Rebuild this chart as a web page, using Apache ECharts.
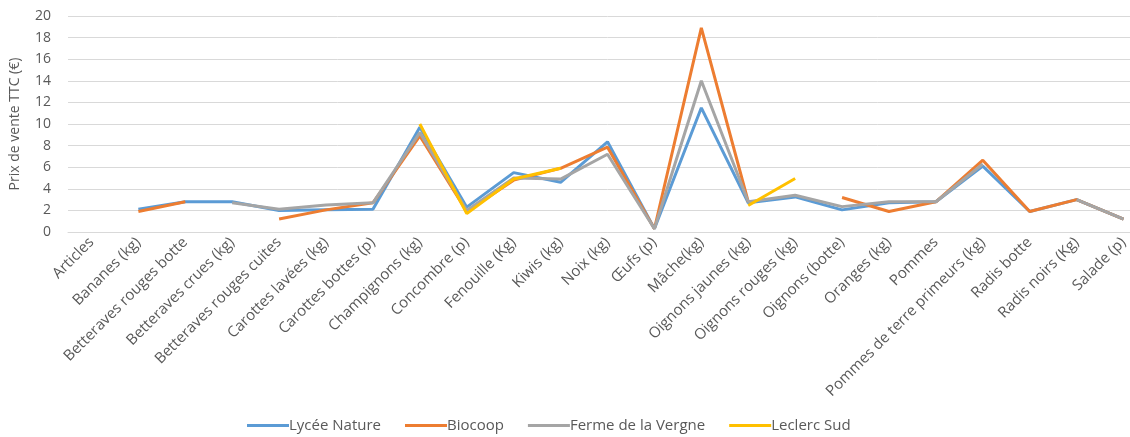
<!DOCTYPE html>
<html><head><meta charset="utf-8">
<script src="https://cdn.jsdelivr.net/npm/echarts@6/dist/echarts.min.js"></script>
<style>html,body{margin:0;padding:0;background:#fff;overflow:hidden;width:1130px;height:437px;}#c{width:1147px;height:437px;}</style>
</head><body><div id="c"></div>
<script>
const categories = ["Articles","Bananes (kg)","Betteraves rouges botte","Betteraves crues (kg)","Betteraves rouges cuites","Carottes lavées (kg)","Carottes bottes (p)","Champignons (kg)","Concombre (p)","Fenouille (Kg)","Kiwis (kg)","Noix (kg)","Œufs (p)","Mâche(kg)","Oignons jaunes (kg)","Oignons rouges (kg)","Oignons (botte)","Oranges (kg)","Pommes","Pommes de terre primeurs (kg)","Radis botte","Radis noirs (Kg)","Salade (p)"];
const lyceeNature = [null,2.1,2.8,2.8,2.0,2.05,2.1,9.7,2.3,5.5,4.6,8.35,0.3,11.5,2.7,3.25,2.05,2.7,2.8,6.1,1.9,3.0,1.2];
const biocoop     = [null,1.9,2.8,null,1.2,2.05,2.7,8.9,1.9,4.8,5.9,7.85,0.3,18.9,2.8,null,3.2,1.9,2.8,6.65,1.9,3.0,1.2];
const fermeVergne = [null,null,null,2.7,2.1,2.5,2.7,9.2,2.0,5.0,4.9,7.2,0.3,14.0,2.8,3.4,2.35,2.8,2.8,6.3,null,3.0,1.2];
const leclercSud  = [null,null,null,null,null,null,null,10.0,1.7,4.9,5.9,null,null,null,2.45,4.95,null,null,null,null,null,null,null];
const seriesNames = ["Lycée Nature","Biocoop","Ferme de la Vergne","Leclerc Sud"];
const colors = ["#5B9BD5","#ED7D31","#A5A5A5","#FFC000"];
const datasets = [lyceeNature, biocoop, fermeVergne, leclercSud];

const chart = echarts.init(document.getElementById('c'));
const txt = '#595959';
chart.setOption({
  animation: false,
  color: colors,
  grid: {left: 67, right: 0, top: 16, bottom: 205, containLabel: false},
  legend: {
    top: 413, left: 242, icon: 'rect', itemWidth: 42, itemHeight: 3, itemGap: 24,
    textStyle: {color: txt, fontSize: 15, fontFamily: 'Open Sans', padding: [0,0,0,-5]},
    data: seriesNames
  },
  xAxis: {
    type: 'category', data: categories, boundaryGap: true,
    axisLine: {show: true, lineStyle: {color: '#d9d9d9'}},
    axisTick: {show: false},
    axisLabel: {rotate: 45, interval: 0, color: txt, fontSize: 15, fontFamily: 'Open Sans', margin: 8}
  },
  yAxis: {
    type: 'value', min: 0, max: 20, interval: 2,
    name: 'Prix de vente TTC (€)', nameLocation: 'middle', nameGap: 46, nameRotate: 90,
    nameTextStyle: {color: txt, fontSize: 14, fontFamily: 'Open Sans'},
    axisLine: {show: false}, axisTick: {show: false},
    axisLabel: {color: txt, fontSize: 14, fontFamily: 'Open Sans', margin: 17},
    splitLine: {lineStyle: {color: '#d9d9d9', width: 1}}
  },
  series: datasets.map((d, i) => ({
    name: seriesNames[i], type: 'line', data: d, symbol: 'none', connectNulls: false,
    lineStyle: {width: 3, color: colors[i]}, itemStyle: {color: colors[i]}
  }))
});
</script></body></html>
